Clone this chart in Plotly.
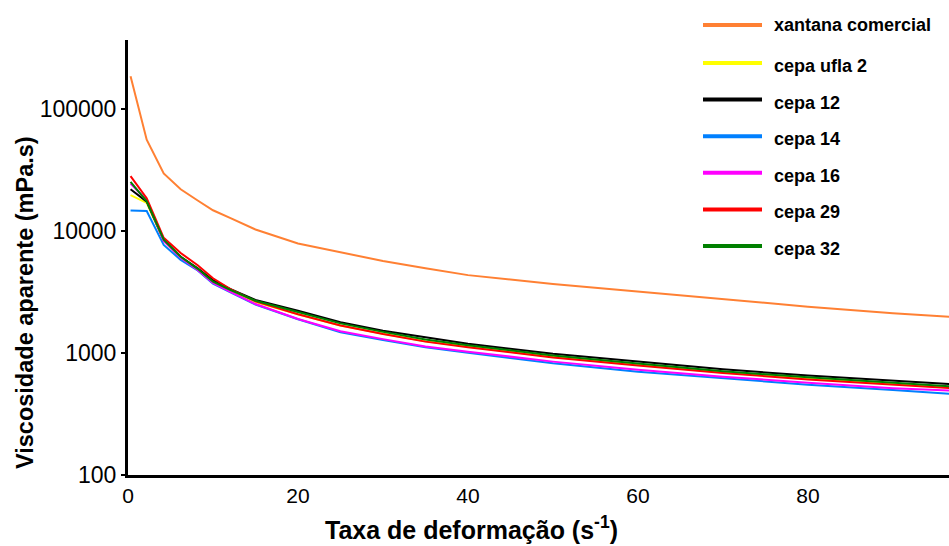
import plotly.graph_objects as go

# ---- data ----
shear_rate = [0.3, 2.2, 4.2, 6.2, 8.2, 10, 12, 15, 20, 25, 30, 35, 40, 50, 60, 70, 80, 90, 100]

xantana_comercial = [186000, 56000, 29700, 22000, 17800, 14800, 12800, 10300, 7900, 6650,
                     5680, 4950, 4350, 3680, 3180, 2750, 2400, 2115, 1920]
cepa_ufla_2 = [19700, 17000, 8300, 6050, 4850, 3800, 3250, 2620, 2080, 1680,
               1440, 1250, 1130, 930, 800, 692, 617, 556, 505]
cepa_12 = [22000, 17400, 8400, 6150, 4950, 3950, 3350, 2720, 2220, 1790,
           1524, 1340, 1190, 985, 849, 735, 655, 593, 540]
cepa_14 = [14700, 14600, 7700, 5800, 4750, 3700, 3150, 2500, 1890, 1480,
           1280, 1114, 1007, 824, 703, 620, 550, 498, 448]
cepa_16 = [24500, 17900, 8300, 6050, 4800, 3750, 3180, 2520, 1900, 1510,
           1300, 1130, 1025, 850, 730, 640, 570, 515, 482]
cepa_29 = [28200, 18600, 8800, 6600, 5250, 4100, 3350, 2650, 2080, 1680,
           1430, 1240, 1115, 920, 790, 685, 608, 548, 500]
cepa_32 = [25300, 17500, 8500, 6150, 4900, 3850, 3300, 2680, 2170, 1750,
           1490, 1290, 1160, 955, 822, 710, 632, 570, 515]

series_names = ["xantana comercial", "cepa ufla 2", "cepa 12", "cepa 14",
                "cepa 16", "cepa 29", "cepa 32"]
series_values = [xantana_comercial, cepa_ufla_2, cepa_12, cepa_14,
                 cepa_16, cepa_29, cepa_32]
series_colors = ["#FF8033", "#FFFF00", "#000000", "#0080FF",
                 "#FF00FF", "#FF0000", "#008000"]

y_tick_vals = [100, 1000, 10000, 100000]
y_tick_text = ["100", "1000", "10000", "100000"]
x_tick_vals = [0, 20, 40, 60, 80]
x_tick_text = ["0", "20", "40", "60", "80"]

x_title = "Taxa de deformação (s<sup>-1</sup>)"
y_title = "Viscosidade aparente (mPa.s)"

# ---- figure ----
W, H = 949, 546
AX_LEFT, AX_BOTTOM, AX_TOP, AX_RIGHT = 128, 475, 40, 949   # page pixels
ML, MT = AX_LEFT, AX_TOP
MR = W - AX_RIGHT
MB = H - AX_BOTTOM
PW, PH = AX_RIGHT - AX_LEFT, AX_BOTTOM - AX_TOP


def px_to_paper_x(px):
    return (px - AX_LEFT) / PW


def px_to_paper_y(py):
    return (AX_BOTTOM - py) / PH


fig = go.Figure()
for name, vals, col in zip(series_names, series_values, series_colors):
    fig.add_trace(go.Scatter(x=shear_rate, y=vals, mode="lines", name=name,
                             line=dict(color=col, width=2), showlegend=False))

regular = "Liberation Sans, Arial, sans-serif"

fig.update_layout(
    width=W, height=H,
    margin=dict(l=ML, r=MR, t=MT, b=MB, pad=0),
    paper_bgcolor="white", plot_bgcolor="white",
    showlegend=False,
    xaxis=dict(range=[0, 96.6], showgrid=False, zeroline=False,
               showline=True, linecolor="black", linewidth=3,
               tickvals=x_tick_vals, ticktext=x_tick_text,
               ticks="", tickfont=dict(family=regular, size=21, color="black")),
    yaxis=dict(type="log", range=[2, 5.566], showgrid=False, zeroline=False,
               showline=True, linecolor="black", linewidth=3,
               tickvals=y_tick_vals, ticktext=y_tick_text,
               ticks="outside", ticklen=4, tickwidth=2, tickcolor="black",
               tickfont=dict(family=regular, size=23, color="black")),
)

# axis titles
fig.add_annotation(text=y_title, textangle=-90, xref="paper", yref="paper",
                   x=px_to_paper_x(25), y=px_to_paper_y(303),
                   xanchor="center", yanchor="middle", showarrow=False,
                   font=dict(family=regular, size=23.5, color="black", weight="bold"))
fig.add_annotation(text=x_title, xref="paper", yref="paper",
                   x=px_to_paper_x(471), y=px_to_paper_y(528),
                   xanchor="center", yanchor="middle", showarrow=False,
                   font=dict(family=regular, size=25, color="black", weight="bold"))

# legend drawn at the top right
for i, (name, col) in enumerate(zip(series_names, series_colors)):
    ly = 25 if i == 0 else 63 + 36.6 * (i - 1)
    ty = ly if i == 0 else ly + 3
    fig.add_shape(type="line", xref="paper", yref="paper",
                  x0=px_to_paper_x(703), x1=px_to_paper_x(762),
                  y0=px_to_paper_y(ly), y1=px_to_paper_y(ly),
                  line=dict(color=col, width=4))
    fig.add_annotation(text=name, xref="paper", yref="paper",
                       x=px_to_paper_x(772), y=px_to_paper_y(ty),
                       xanchor="left", yanchor="middle", showarrow=False,
                       font=dict(family=regular, size=18, color="black", weight="bold"))

fig.write_html(
    "out.html",
    config={"displayModeBar": False},
    post_script="document.body.style.margin='0';document.body.style.overflow='hidden';",
)
